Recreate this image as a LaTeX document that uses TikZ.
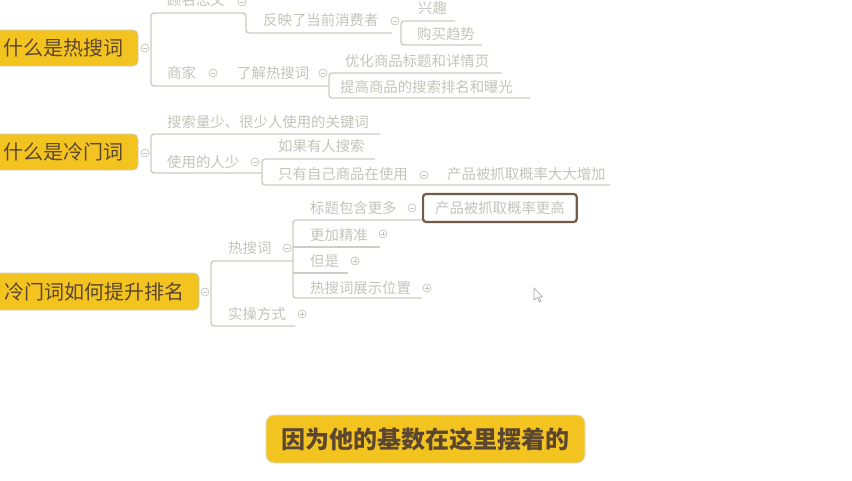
\documentclass[tikz,border=0pt]{standalone}
\usepackage{fontspec}
\setmainfont{Noto Sans CJK SC}
\definecolor{hotyellow}{HTML}{F3C31F}
\definecolor{rootbrown}{HTML}{5B4731}
\definecolor{fadegray}{HTML}{C3C3BA}
\definecolor{linegray}{HTML}{CDCDC5}
\definecolor{selbrown}{HTML}{6F5B47}
\tikzset{
  rootbox/.style={fill=hotyellow, draw=linegray, line width=0.8pt, rounded corners=5pt,
    text=rootbrown, font=\fontsize{20}{20}\selectfont, inner sep=0pt},
  leaf/.style={anchor=west, inner sep=0pt, text=fadegray, font=\fontsize{14.4}{14.4}\selectfont},
  branch/.style={draw=linegray, line width=1.4pt, rounded corners=3pt},
  toggle/.style={circle, draw=fadegray, line width=0.7pt, minimum size=8pt, inner sep=0pt},
  tgminus/.style={toggle, path picture={\draw[fadegray, line width=0.7pt]
    ([xshift=2pt]path picture bounding box.west) -- ([xshift=-2pt]path picture bounding box.east);}},
  tgplus/.style={toggle, path picture={\draw[fadegray, line width=0.7pt]
    ([xshift=2pt]path picture bounding box.west) -- ([xshift=-2pt]path picture bounding box.east)
    ([yshift=-2pt]path picture bounding box.north) -- ([yshift=2pt]path picture bounding box.south);}},
}
\begin{document}
\begin{tikzpicture}[x=1pt,y=-1pt]
  \useasboundingbox (0,0) rectangle (852,480);
  % first part: hot words
  \draw[branch] (392,33) -- (246,33) -- (246,13) -- (151,13) -- (151,86) -- (329,86);
  \draw[branch] (455,21) -- (401,21) -- (401,45) -- (482,45);
  \draw[branch] (502,73) -- (329,73) -- (329,98) -- (530,98);
  \node[rootbox, minimum width=148pt, minimum height=36pt] (hot) at (64,48) {什么是热搜词};
  \node[tgminus] (tghot) at (145,48) {};
  \node[leaf] (meaning) at (167,0) {顾名思义};
  \node[tgminus] (tgmeaning) at (242,2) {};
  \node[leaf] (reflect) at (263,20) {反映了当前消费者};
  \node[tgminus] (tgreflect) at (395,21) {};
  \node[leaf] (interest) at (418,8) {兴趣};
  \node[leaf] (trend) at (417,34) {购买趋势};
  \node[leaf] (seller) at (167,73) {商家};
  \node[tgminus] (tgseller) at (213,73) {};
  \node[leaf] (learn) at (237,73) {了解热搜词};
  \node[tgminus] (tglearn) at (323,73) {};
  \node[leaf] (optimize) at (345,61) {优化商品标题和详情页};
  \node[leaf] (exposure) at (340,87) {提高商品的搜索排名和曝光};
  % second part: cold words
  \draw[branch] (380,134) -- (151,134) -- (151,173) -- (262,173);
  \draw[branch] (375,159) -- (262,159) -- (262,185) -- (610,185);
  \node[rootbox, minimum width=148pt, minimum height=36pt] (cold) at (64,152) {什么是冷门词};
  \node[tgminus] (tgcold) at (145,153) {};
  \node[leaf] (rare) at (167,122) {搜索量少、很少人使用的关键词};
  \node[leaf] (fewusers) at (167,162) {使用的人少};
  \node[tgminus] (tgfew) at (255,162) {};
  \node[leaf] (ifsearch) at (278,146) {如果有人搜索};
  \node[leaf] (onlyown) at (278,174) {只有自己商品在使用};
  \node[tgminus] (tgown) at (424,175) {};
  \node[leaf] (chance) at (447,174) {产品被抓取概率大大增加};
  % third part: ranking
  \draw[branch] (293,261) -- (211,261) -- (211,326) -- (295,326);
  \draw[branch] (422,220) -- (293,220) -- (293,298) -- (422,298);
  \draw[branch] (293,247) -- (380,247);
  \draw[branch] (293,273) -- (348,273);
  \node[rootbox, minimum width=209pt, minimum height=37pt] (rank) at (94.5,291.5) {冷门词如何提升排名};
  \node[tgminus] (tgrank) at (205,292) {};
  \node[leaf] (hotkw) at (228,248) {热搜词};
  \node[tgminus] (tghotkw) at (287,248) {};
  \node[leaf] (practice) at (228,314) {实操方式};
  \node[tgplus] (tgpractice) at (302,314) {};
  \node[leaf] (morekw) at (310,208) {标题包含更多};
  \node[tgminus] (tgmore) at (412,208) {};
  \node[leaf, draw=selbrown, line width=2.2pt, rounded corners=3pt, inner xsep=12pt,
    minimum height=28pt] (higher) at (422,208) {产品被抓取概率更高};
  \node[leaf] (precise) at (310,235) {更加精准};
  \node[tgplus] (tgprecise) at (383,234) {};
  \node[leaf] (but) at (310,261) {但是};
  \node[tgplus] (tgbut) at (355,261) {};
  \node[leaf] (showpos) at (310,288) {热搜词展示位置};
  \node[tgplus] (tgshow) at (427,288) {};
  % pointer
  \draw[gray!70, fill=white, line width=0.6pt] (534,288) -- (534,300) -- (537,297.5)
    -- (539.5,302) -- (541,301.3) -- (538.8,297) -- (542.5,297) -- cycle;
  % caption
  \node[rootbox, draw=linegray!60, rounded corners=8pt, minimum width=319pt, minimum height=48pt,
    font=\fontsize{24}{24}\selectfont\bfseries] (basis) at (425.5,439) {因为他的基数在这里摆着的};
\end{tikzpicture}
\end{document}
